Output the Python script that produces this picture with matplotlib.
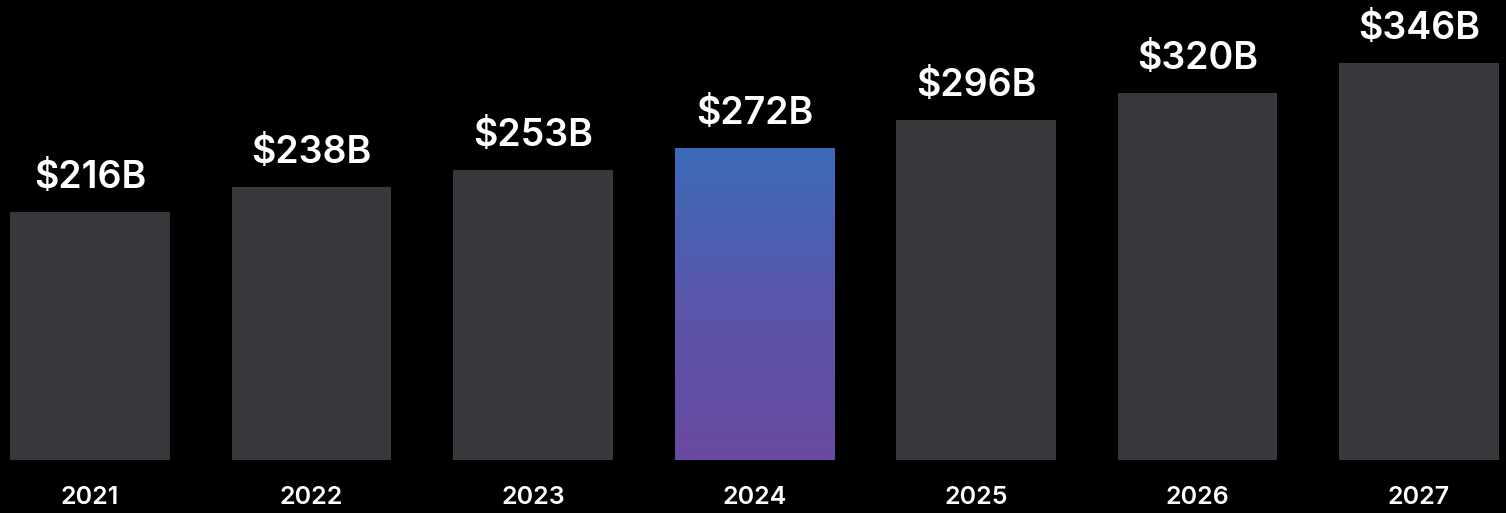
import numpy as np
import matplotlib
matplotlib.use("Agg")
import matplotlib.pyplot as plt
from matplotlib.colors import LinearSegmentedColormap

years = ["2021", "2022", "2023", "2024", "2025", "2026", "2027"]
values = [216, 238, 253, 272, 296, 320, 346]
labels = ["$216B", "$238B", "$253B", "$272B", "$296B", "$320B", "$346B"]
highlight = "2024"

plt.rcParams['font.family'] = ['Inter', 'DejaVu Sans']

fig = plt.figure(figsize=(15.06, 5.13), dpi=100, facecolor="black")
ax = fig.add_axes([0, 53 / 513, 1, 460 / 513])
ax.set_facecolor("black")

x = np.arange(len(years))
bars = ax.bar(x, values, width=0.72, color="#38373c", linewidth=0)

# gradient fill for the highlighted year
cmap = LinearSegmentedColormap.from_list("hl", ["#6a4aa1", "#5a55ab", "#3b6bb8"])
i = years.index(highlight)
b = bars[i]
b.set_facecolor("none")
grad = np.linspace(0, 1, 256).reshape(-1, 1)
im = ax.imshow(grad, cmap=cmap, origin="lower", aspect="auto",
               extent=[b.get_x(), b.get_x() + b.get_width(), 0, b.get_height()],
               zorder=1)
im.set_clip_path(b)

ax.set_xlim(-0.406, 6.393)
ax.set_ylim(0, 401)
ax.axis("off")

for xi, v, lab in zip(x, values, labels):
    ax.annotate(lab, (xi, v), xytext=(0, 16), textcoords="offset pixels",
                ha="center", va="bottom", color="white",
                fontsize=27, fontweight="semibold")

for xi, yr in zip(x, years):
    ax.annotate(yr, (xi, 0), xytext=(0, -37), textcoords="offset pixels",
                ha="center", va="center", color="white",
                fontsize=18, fontweight="semibold", annotation_clip=False)

fig.savefig("out.png", dpi=100, facecolor="black")
